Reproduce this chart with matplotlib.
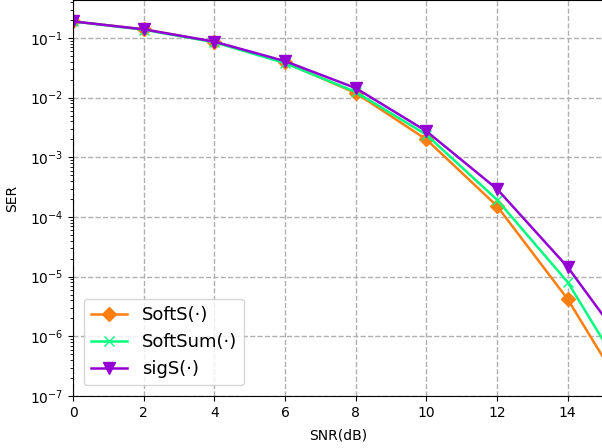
import matplotlib.pyplot as plt

snr = [0, 2, 4, 6, 8, 10, 12, 14, 16]
ser_softs = [0.19, 0.14, 0.086, 0.039, 0.012, 2.0e-3, 1.53e-4, 4.2e-6, 4.8e-8]
ser_softsum = [0.19, 0.138, 0.085, 0.038, 0.0125, 2.4e-3, 1.95e-4, 8.1e-6, 9.3e-8]
ser_sigs = [0.19, 0.14, 0.087, 0.041, 0.0145, 2.75e-3, 2.95e-4, 1.45e-5, 3.5e-7]

fig = plt.figure(figsize=(6.02, 4.48), dpi=100)
ax = fig.add_axes([73 / 602, 52 / 448, 530 / 602, 396 / 448])

ax.semilogy(snr, ser_softs, color='#ff7f0e', marker='D', markersize=7, linewidth=1.8, label='SoftS(·)')
ax.semilogy(snr, ser_softsum, color='#00ff7f', marker='x', markersize=7, linewidth=1.8, label='SoftSum(·)')
ax.semilogy(snr, ser_sigs, color='#9400d3', marker='v', markersize=8, linewidth=1.8, label='sigS(·)')

ax.set_xlim(0, 15)
ax.set_ylim(1e-7, 0.434)
ax.set_xticks([0, 2, 4, 6, 8, 10, 12, 14])
ax.set_xlabel('SNR(dB)', labelpad=6)
ax.set_ylabel('SER', labelpad=8)
ax.grid(True, which='major', linestyle='--', color='#b0b0b0', linewidth=1)
ax.legend(loc='lower left', fontsize=13, borderaxespad=0.6)

plt.savefig('out.png', dpi=100)
